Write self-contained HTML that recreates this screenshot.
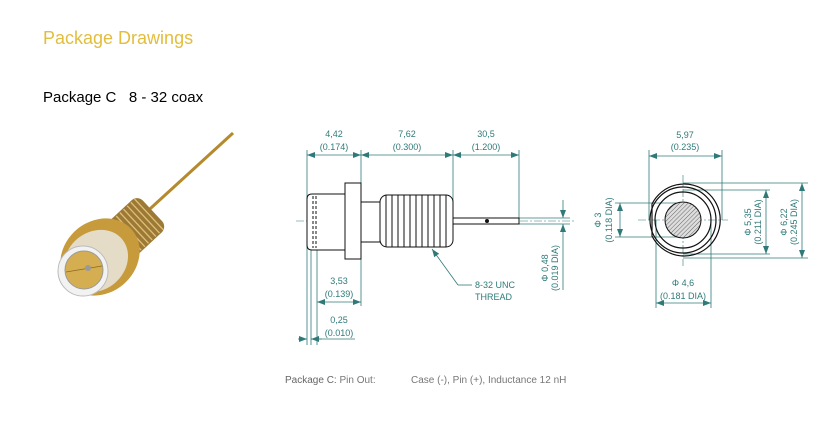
<!DOCTYPE html>
<html><head><meta charset="utf-8"><style>
html,body{margin:0;padding:0;background:#fff;width:839px;height:436px;overflow:hidden}
svg{display:block}
.t{font-family:"Liberation Sans",sans-serif;font-size:9px;fill:#2f7a78;text-anchor:middle}
</style></head><body>
<svg width="839" height="436" viewBox="0 0 839 436" xmlns="http://www.w3.org/2000/svg">
<defs>
<marker id="a" markerWidth="8" markerHeight="6" refX="8" refY="3" orient="auto-start-reverse" markerUnits="userSpaceOnUse"><path d="M0,0 L8,3 L0,6z" fill="#2f7a78"/></marker>
<pattern id="h" width="3" height="3" patternUnits="userSpaceOnUse" patternTransform="rotate(45)"><rect width="3" height="3" fill="#ddd"/><line x1="0" y1="0" x2="0" y2="3" stroke="#666" stroke-width="1"/></pattern>
</defs>
<text x="43" y="44" font-family="Liberation Sans,sans-serif" font-size="18" fill="#e3bd3c">Package Drawings</text>
<text x="43" y="102" font-family="Liberation Sans,sans-serif" font-size="15" fill="#000">Package C &#160; 8 - 32 coax</text>

<!-- photo -->
<line x1="233" y1="133" x2="140" y2="218" stroke="#b58a2e" stroke-width="3"/>
<g transform="rotate(-43 132 230)">
<rect x="104" y="208" width="56" height="44" rx="8" fill="#9c7a36"/>
<g stroke="#e0c079" stroke-width="1.3">
<line x1="110" y1="209" x2="110" y2="251"/><line x1="115" y1="209" x2="115" y2="251"/><line x1="120" y1="209" x2="120" y2="251"/><line x1="125" y1="209" x2="125" y2="251"/><line x1="130" y1="209" x2="130" y2="251"/><line x1="135" y1="209" x2="135" y2="251"/><line x1="140" y1="209" x2="140" y2="251"/><line x1="145" y1="209" x2="145" y2="251"/><line x1="150" y1="209" x2="150" y2="251"/><line x1="155" y1="209" x2="155" y2="251"/></g></g>
<ellipse cx="100" cy="257" rx="42" ry="36" transform="rotate(-40 100 257)" fill="#c79a3c"/>
<ellipse cx="96" cy="261" rx="34" ry="29" transform="rotate(-40 96 261)" fill="#e4dcc6"/>
<ellipse cx="83" cy="271" rx="25" ry="25" fill="#f2f2f2" stroke="#bbb"/>
<ellipse cx="84" cy="270" rx="19" ry="19" fill="#d5ae52" stroke="#999"/>
<line x1="66" y1="272" x2="102" y2="266" stroke="#8a6a1e" stroke-width="0.8"/>
<circle cx="88" cy="268" r="3" fill="#999"/>

<g stroke="#2f7a78" stroke-width="0.8" fill="none">
<line x1="307" y1="150" x2="307" y2="345"/><line x1="361" y1="150" x2="361" y2="183"/><line x1="453" y1="150" x2="453" y2="218"/><line x1="519" y1="150" x2="519" y2="218"/>
<line x1="307" y1="155" x2="361" y2="155" marker-start="url(#a)" marker-end="url(#a)"/>
<line x1="361" y1="155" x2="453" y2="155" marker-start="url(#a)" marker-end="url(#a)"/>
<line x1="453" y1="155" x2="519" y2="155" marker-start="url(#a)" marker-end="url(#a)"/>
<line x1="317" y1="250" x2="317" y2="345"/><line x1="311" y1="250" x2="311" y2="345"/><line x1="361" y1="259" x2="361" y2="306"/>
<line x1="317" y1="302" x2="361" y2="302" marker-start="url(#a)" marker-end="url(#a)"/>
<line x1="298" y1="339" x2="307" y2="339" marker-end="url(#a)"/>
<line x1="322" y1="339" x2="311" y2="339" marker-end="url(#a)"/>
<line x1="311" y1="339" x2="355" y2="339"/>
<line x1="519" y1="218" x2="570" y2="218"/><line x1="519" y1="224" x2="570" y2="224"/>
<line x1="563" y1="200" x2="563" y2="218" marker-end="url(#a)"/>
<line x1="563" y1="290" x2="563" y2="224" marker-end="url(#a)"/>
<line x1="472" y1="285" x2="458" y2="285"/><line x1="458" y1="285" x2="432" y2="249" marker-end="url(#a)"/>
<line x1="649" y1="150" x2="649" y2="220"/><line x1="722" y1="150" x2="722" y2="220"/>
<line x1="649" y1="156" x2="722" y2="156" marker-start="url(#a)" marker-end="url(#a)"/>
<line x1="683" y1="183" x2="808" y2="183"/><line x1="683" y1="258" x2="808" y2="258"/>
<line x1="683" y1="190" x2="770" y2="190"/><line x1="683" y1="254" x2="770" y2="254"/>
<line x1="802" y1="183" x2="802" y2="258" marker-start="url(#a)" marker-end="url(#a)"/>
<line x1="766" y1="190" x2="766" y2="254" marker-start="url(#a)" marker-end="url(#a)"/>
<line x1="615" y1="203" x2="683" y2="203"/><line x1="615" y1="237" x2="683" y2="237"/>
<line x1="620" y1="203" x2="620" y2="237" marker-start="url(#a)" marker-end="url(#a)"/>
<line x1="656" y1="220" x2="656" y2="308"/><line x1="711" y1="220" x2="711" y2="308"/>
<line x1="656" y1="303" x2="711" y2="303" marker-start="url(#a)" marker-end="url(#a)"/>
</g>
<g stroke="#2f7a78" stroke-width="0.6" stroke-dasharray="8 2 2 2" fill="none">
<line x1="296" y1="221" x2="575" y2="221"/>
<line x1="683" y1="175" x2="683" y2="266"/><line x1="638" y1="220" x2="728" y2="220"/>
</g>

<g stroke="#111" stroke-width="1" fill="#fff">
<path d="M345,194 L312,194 Q307,194 307,199 L307,245 Q307,250 312,250 L345,250 Z"/>
<rect x="345" y="183" width="16" height="76"/>
<rect x="361" y="202" width="19" height="40"/>
<rect x="380" y="195" width="73" height="52" rx="7"/>
<rect x="453" y="218" width="66" height="6"/>
</g>
<g stroke="#111" stroke-width="1" fill="none">
<path d="M316,196 V248" stroke-dasharray="3 2"/><path d="M313,196 V248" stroke-dasharray="3 2"/>
<line x1="386" y1="195" x2="386" y2="247"/><line x1="392" y1="195" x2="392" y2="247"/><line x1="398" y1="195" x2="398" y2="247"/><line x1="404" y1="195" x2="404" y2="247"/><line x1="410" y1="195" x2="410" y2="247"/><line x1="416" y1="195" x2="416" y2="247"/><line x1="422" y1="195" x2="422" y2="247"/><line x1="428" y1="195" x2="428" y2="247"/><line x1="434" y1="195" x2="434" y2="247"/><line x1="440" y1="195" x2="440" y2="247"/><line x1="446" y1="195" x2="446" y2="247"/>
</g>
<circle cx="487" cy="221" r="2" fill="#111"/>

<g stroke="#111" stroke-width="1.2" fill="none">
<path d="M652,204 A36,36 0 1 1 652,236 Z"/>
<circle cx="683" cy="220" r="33"/>
<circle cx="683" cy="220" r="28"/>
</g>
<circle cx="683" cy="220" r="18" fill="url(#h)" stroke="#111"/>

<text class="t" x="334" y="137">4,42</text><text class="t" x="334" y="150">(0.174)</text>
<text class="t" x="407" y="137">7,62</text><text class="t" x="407" y="150">(0.300)</text>
<text class="t" x="486" y="137">30,5</text><text class="t" x="486" y="150">(1.200)</text>
<text class="t" x="339" y="284">3,53</text><text class="t" x="339" y="297">(0.139)</text>
<text class="t" x="339" y="323">0,25</text><text class="t" x="339" y="336">(0.010)</text>
<text class="t" x="475" y="288" style="text-anchor:start">8-32 UNC</text>
<text class="t" x="475" y="300" style="text-anchor:start">THREAD</text>
<text class="t" transform="translate(548 268) rotate(-90)">Φ 0,48</text>
<text class="t" transform="translate(558 268) rotate(-90)">(0.019 DIA)</text>
<text class="t" x="685" y="138">5,97</text><text class="t" x="685" y="150">(0.235)</text>
<text class="t" transform="translate(601 220) rotate(-90)">Φ 3</text>
<text class="t" transform="translate(612 220) rotate(-90)">(0.118 DIA)</text>
<text class="t" transform="translate(751 222) rotate(-90)">Φ 5,35</text>
<text class="t" transform="translate(761 222) rotate(-90)">(0.211 DIA)</text>
<text class="t" transform="translate(787 222) rotate(-90)">Φ 6,22</text>
<text class="t" transform="translate(797 222) rotate(-90)">(0.245 DIA)</text>
<text class="t" x="683" y="286">Φ 4,6</text><text class="t" x="683" y="299">(0.181 DIA)</text>

<text x="285" y="383" font-family="Liberation Sans,sans-serif" font-size="10" fill="#666">Package C: <tspan fill="#777">Pin Out:</tspan></text>
<text x="411" y="383" font-family="Liberation Sans,sans-serif" font-size="10" fill="#777">Case (-), Pin (+), Inductance 12 nH</text>
</svg>
</body></html>
